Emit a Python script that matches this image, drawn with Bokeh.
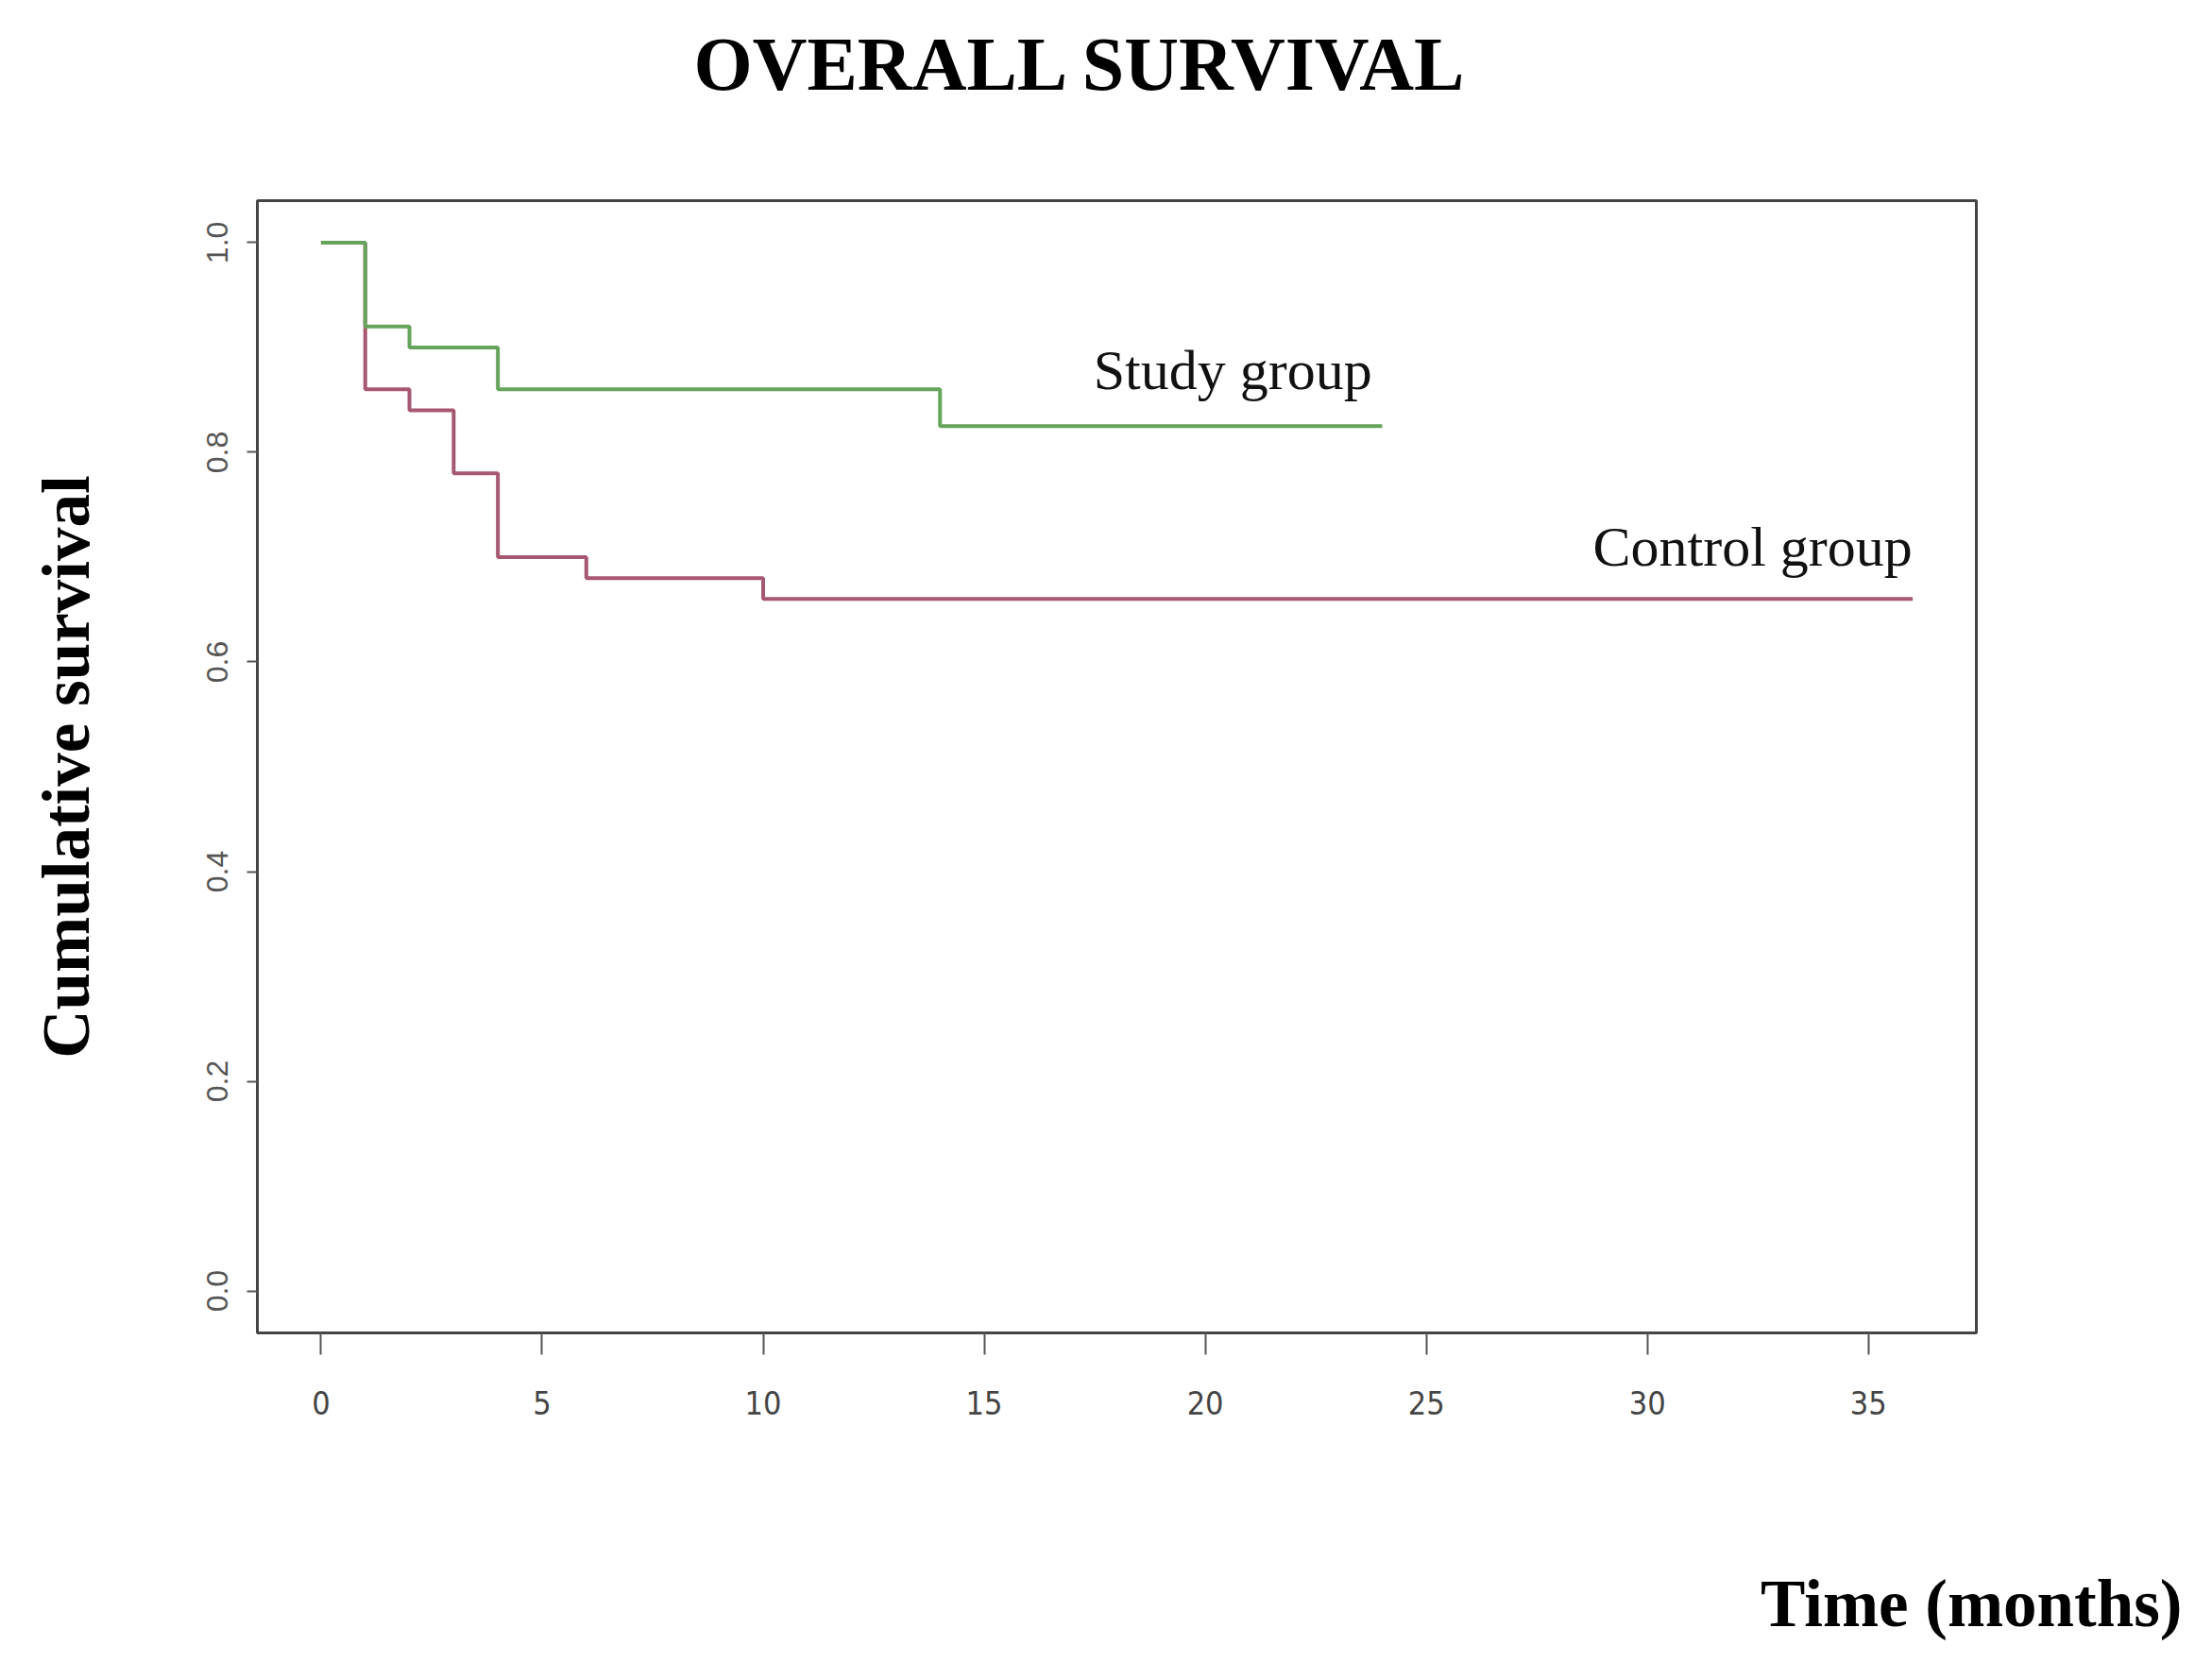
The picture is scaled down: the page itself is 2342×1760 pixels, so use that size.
from bokeh.plotting import figure
from bokeh.models import Range1d, FixedTicker, Label, Title
from bokeh.embed import file_html
from bokeh.resources import INLINE

# ---- data (Kaplan-Meier step curves) ----
study_time = [0, 1, 2, 4, 14, 24]
study_surv = [1.0, 0.92, 0.90, 0.86, 0.825, 0.825]
control_time = [0, 1, 2, 3, 4, 6, 10, 36]
control_surv = [1.0, 0.86, 0.84, 0.78, 0.70, 0.68, 0.66, 0.66]
x_ticks = [0, 5, 10, 15, 20, 25, 30, 35]
y_ticks = [0.0, 0.2, 0.4, 0.6, 0.8, 1.0]
title_text = "OVERALL SURVIVAL"
x_label = "Time (months)"
y_label = "Cumulative survival"
study_name = "Study group"
control_name = "Control group"

GREEN = "#66a35c"
RED = "#a5586f"

p = figure(width=2326, height=1749, output_backend="svg", toolbar_location=None,
           x_range=Range1d(-1.44, 37.44), y_range=Range1d(-0.04, 1.04),
           min_border_left=272, min_border_right=234, min_border_top=212, min_border_bottom=338)
p.frame_width = 1820
p.frame_height = 1199
p.title = None

p.xgrid.visible = False
p.ygrid.visible = False
p.outline_line_color = "#444444"
p.outline_line_width = 3
p.background_fill_color = "white"
p.border_fill_color = "white"

# axes
xa = p.xaxis[0]
xa.ticker = FixedTicker(ticks=x_ticks)
xa.axis_line_color = None
xa.major_tick_line_color = "#555555"
xa.major_tick_line_width = 2
xa.major_tick_out = 23
xa.major_tick_in = 0
xa.minor_tick_line_color = None
xa.major_label_standoff = 38
xa.major_label_text_font = "'Liberation Sans Narrow', 'DejaVu Sans Condensed', 'Liberation Sans'"
xa.major_label_text_font_size = "34px"
xa.major_label_text_color = "#444444"

ya = p.yaxis[0]
ya.ticker = FixedTicker(ticks=y_ticks)
ya.major_label_overrides = {t: f"{t:.1f}" for t in y_ticks}
ya.axis_line_color = None
ya.major_tick_line_color = "#555555"
ya.major_tick_line_width = 2
ya.major_tick_out = 11
ya.major_tick_in = 0
ya.minor_tick_line_color = None
ya.major_label_standoff = 20
ya.major_label_orientation = "vertical"
ya.major_label_text_font = "Liberation Sans"
ya.major_label_text_font_size = "32px"
ya.major_label_text_color = "#555555"
ya.axis_label = y_label
ya.axis_label_standoff = 108
ya.axis_label_text_font = "Liberation Serif"
ya.axis_label_text_font_style = "bold"
ya.axis_label_text_font_size = "71px"
ya.axis_label_text_color = "black"

# main title above, with a blank spacer between it and the frame
p.add_layout(Title(text=" ", standoff=97, text_font_size="2px"), "above")
p.add_layout(Title(text=title_text, align="left", offset=462, standoff=0,
                   text_font="Liberation Serif", text_font_style="bold",
                   text_font_size="80px", text_color="black"), "above")

# x axis title, right-aligned at the bottom, below a blank spacer
p.add_layout(Title(text=" ", standoff=152, text_font_size="2px"), "below")
p.add_layout(Title(text=x_label, align="right", offset=-218, standoff=0,
                   text_font="Liberation Serif", text_font_style="bold",
                   text_font_size="71px", text_color="black"), "below")

# curves
p.step(control_time, control_surv, mode="after", line_color=RED, line_width=4)
p.step(study_time, study_surv, mode="after", line_color=GREEN, line_width=4)

# in-plot group labels
p.add_layout(Label(x=20.62, y=0.878, text=study_name, text_align="center",
                   text_baseline="alphabetic", text_font="Liberation Serif",
                   text_font_size="60px", text_color="#111111"))
p.add_layout(Label(x=32.38, y=0.710, text=control_name, text_align="center",
                   text_baseline="alphabetic", text_font="Liberation Serif",
                   text_font_size="60px", text_color="#111111"))

open("out.html", "w").write(file_html(p, INLINE))
